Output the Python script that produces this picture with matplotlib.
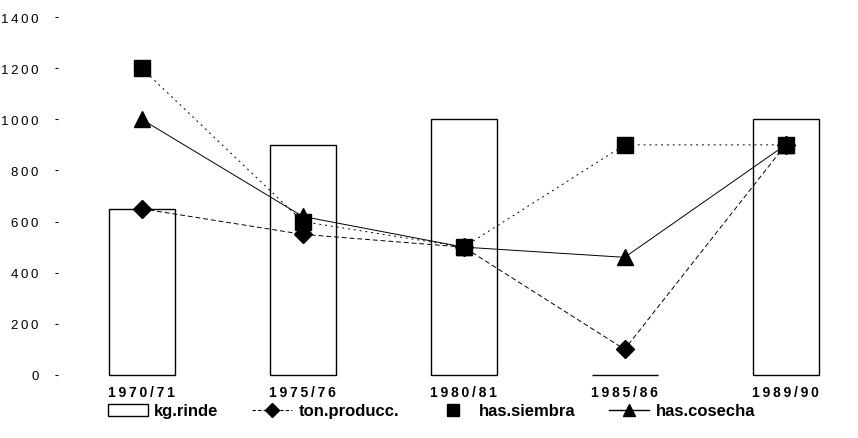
import matplotlib.pyplot as plt
from matplotlib.patches import Patch
from matplotlib.lines import Line2D
import numpy as np

# campaign years and series
campanas = ["1970/71", "1975/76", "1980/81", "1985/86", "1989/90"]
kg_rinde = [650, 900, 1000, 0, 1000]
ton_producc = [650, 550, 500, 100, 900]
has_siembra = [1200, 600, 500, 900, 900]
has_cosecha = [1000, 620, 500, 460, 900]
y_ticks = [0, 200, 400, 600, 800, 1000, 1200, 1400]

FONT = ["Liberation Sans", "DejaVu Sans"]
SP = "\u2009"


def spaced(s):
    return SP.join(s)


fig = plt.figure(figsize=(8.58, 4.39), dpi=100)
ax = fig.add_axes([58 / 858, 1 - 380 / 439, 800 / 858, 366 / 439])

x = np.arange(len(campanas))

ax.bar(x, kg_rinde, width=0.41, facecolor="white", edgecolor="black",
       linewidth=1.0, zorder=1)

ax.plot(x, ton_producc, color="black", linewidth=0.7, linestyle=(0, (5, 3)),
        marker="D", markersize=9, zorder=3)
ax.plot(x, has_siembra, color="black", linewidth=0.7, linestyle=(0, (2, 4)),
        marker="s", markersize=11, zorder=4)
ax.plot(x, has_cosecha, color="black", linewidth=0.7, linestyle="-",
        marker="^", markersize=11, zorder=3)

ax.set_xlim(-0.52, 4.45)
ax.set_ylim(-16, 1416)
ax.set_yticks(y_ticks)
ax.set_yticklabels([SP.join(str(v)) for v in y_ticks], fontsize=9.5,
                   family=FONT)
ax.set_xticks(x)
ax.set_xticklabels([spaced(c) for c in campanas], fontsize=10,
                   fontweight="bold", family=FONT)
ax.tick_params(axis="y", length=2, width=0.8, pad=12)
ax.tick_params(axis="x", length=0, pad=4)
for s in ax.spines.values():
    s.set_visible(False)

handles = [
    Patch(facecolor="white", edgecolor="black", linewidth=1.0),
    Line2D([], [], color="black", linewidth=0.8, linestyle=(0, (3, 2)),
           marker="D", markersize=7),
    Line2D([], [], color="black", linestyle="none", marker="s", markersize=9),
    Line2D([], [], color="black", linewidth=1.0, marker="^", markersize=9),
]
labels = ["kg.rinde", "ton.producc.", "has.siembra", "has.cosecha"]
fig.legend(handles, labels, loc="center", bbox_to_anchor=(0.503, 1 - 412 / 439),
           ncol=4, frameon=False, handlelength=2.4, handleheight=0.7,
           columnspacing=2.0, handletextpad=0.4,
           prop={"family": FONT, "size": 12, "weight": "bold"})

fig.savefig("out.png", dpi=100)
